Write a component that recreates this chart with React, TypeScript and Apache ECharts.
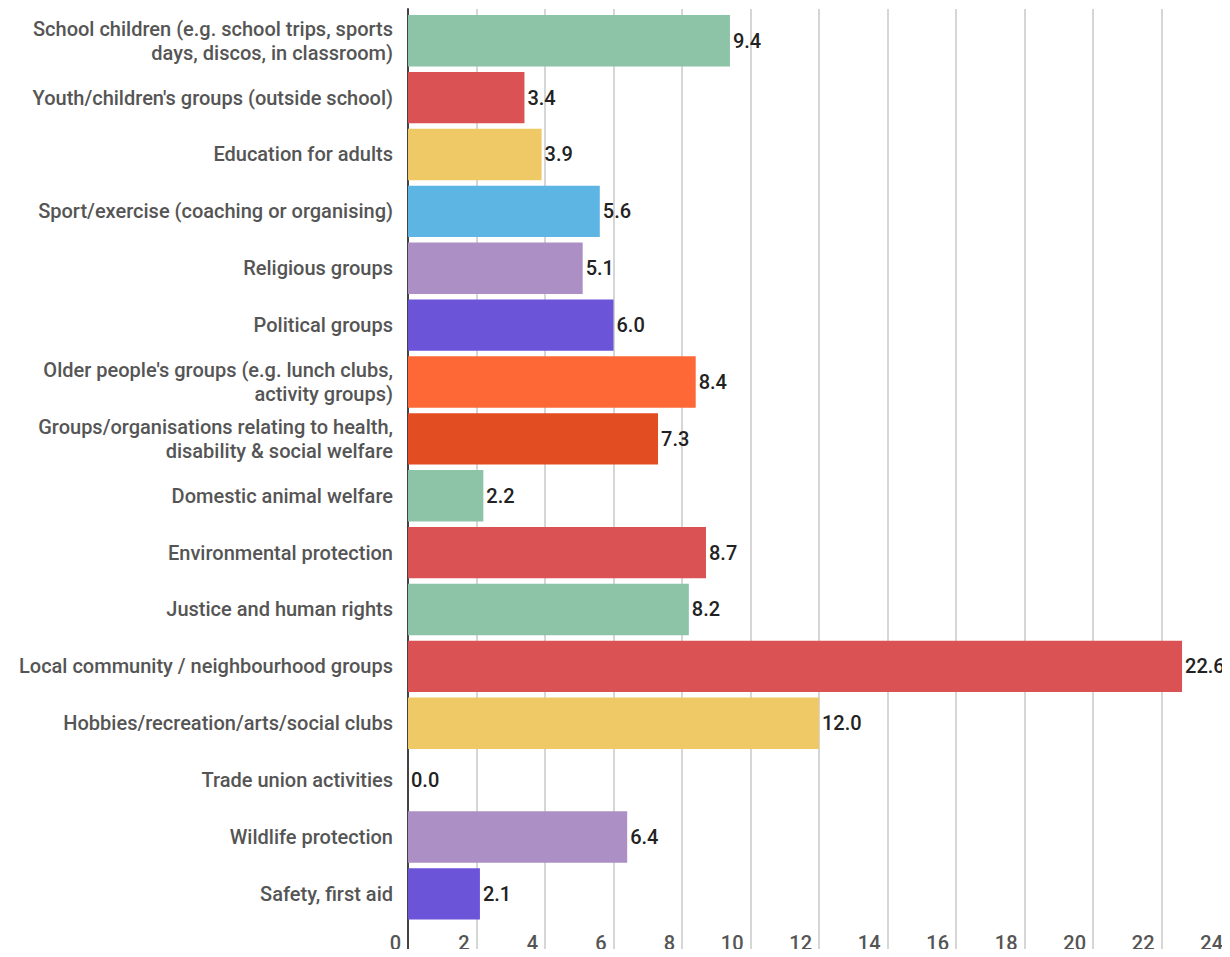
import React, { useEffect, useRef } from "react";
import * as echarts from "echarts";

const categories = [
  "School children (e.g. school trips, sports\ndays, discos, in classroom)",
  "Youth/children's groups (outside school)",
  "Education for adults",
  "Sport/exercise (coaching or organising)",
  "Religious groups",
  "Political groups",
  "Older people's groups (e.g. lunch clubs,\nactivity groups)",
  "Groups/organisations relating to health,\ndisability & social welfare",
  "Domestic animal welfare",
  "Environmental protection",
  "Justice and human rights",
  "Local community / neighbourhood groups",
  "Hobbies/recreation/arts/social clubs",
  "Trade union activities",
  "Wildlife protection",
  "Safety, first aid",
];

const values = [9.4, 3.4, 3.9, 5.6, 5.1, 6.0, 8.4, 7.3, 2.2, 8.7, 8.2, 22.6, 12.0, 0.0, 6.4, 2.1];

const barColors = [
  "#8DC3A7",
  "#DB5254",
  "#EFC966",
  "#5DB5E3",
  "#AB8FC5",
  "#6C54D9",
  "#FD6836",
  "#E34D22",
  "#8DC3A7",
  "#DB5254",
  "#8DC3A7",
  "#DB5254",
  "#EFC966",
  "#5DB5E3",
  "#AB8FC5",
  "#6C54D9",
];

const xMin = 0;
const xMax = 24;
const xStep = 2;

export default function App() {
  const ref = useRef<HTMLDivElement>(null);

  useEffect(() => {
    if (!ref.current) return;
    const chart = echarts.init(ref.current, null, { renderer: "svg" });
    const font = "Roboto, 'Noto Sans', sans-serif";
    chart.setOption({
      animation: false,
      backgroundColor: "#ffffff",
      grid: [
        { left: 408, top: 12.3, width: 830, height: 910 },
        { left: 408, top: 9, width: 830, bottom: 0 },
      ],
      xAxis: [
        {
          gridIndex: 0,
          type: "value",
          min: xMin,
          max: xMax,
          interval: xStep,
          axisLine: { show: false },
          axisTick: { show: false },
          splitLine: { show: false },
          axisLabel: {
            fontFamily: font,
            fontSize: 20,
            fontWeight: 500,
            color: "#555",
            align: "right",
            padding: [0, 7, 0, 0],
            margin: 11,
          },
        },
        {
          gridIndex: 1,
          type: "value",
          min: xMin,
          max: xMax,
          interval: xStep,
          axisLine: { show: false },
          axisTick: { show: false },
          axisLabel: { show: false },
          splitLine: { show: true, lineStyle: { color: "#d6d6d6", width: 2 } },
        },
      ],
      yAxis: [
        {
          gridIndex: 0,
          type: "category",
          inverse: true,
          data: categories,
          axisLine: { show: false },
          axisTick: { show: false },
          axisLabel: {
            fontFamily: font,
            fontSize: 20,
            fontWeight: 500,
            color: "#555",
            lineHeight: 24,
            margin: 15,
            align: "right",
          },
        },
        {
          gridIndex: 1,
          type: "value",
          min: 0,
          max: 1,
          axisLine: { show: true, lineStyle: { color: "#444", width: 2 } },
          axisTick: { show: false },
          axisLabel: { show: false },
          splitLine: { show: false },
        },
      ],
      series: [
        {
          type: "bar",
          xAxisIndex: 0,
          yAxisIndex: 0,
          barCategoryGap: "9.5%",
          z: 3,
          data: values.map((v, i) => ({
            value: v,
            itemStyle: { color: barColors[i] },
          })),
          label: {
            show: true,
            position: "right",
            distance: 3,
            fontFamily: font,
            fontSize: 20,
            fontWeight: 500,
            color: "#222",
            formatter: (p: any) => Number(p.value).toFixed(1),
          },
        },
      ],
    });
    return () => chart.dispose();
  }, []);

  return <div ref={ref} style={{ width: 1230, height: 957, margin: -8 }} />;
}
